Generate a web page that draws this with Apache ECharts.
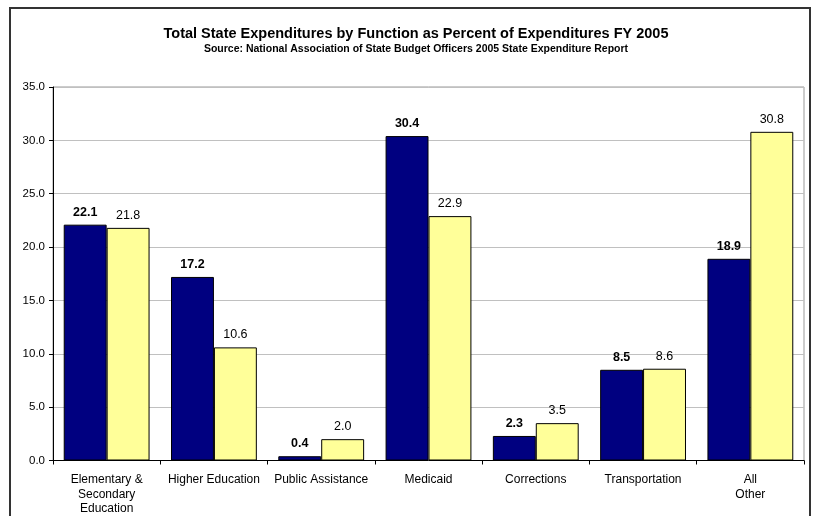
<!DOCTYPE html>
<html>
<head>
<meta charset="utf-8">
<script src="https://cdn.jsdelivr.net/npm/echarts@6/dist/echarts.min.js"></script>
<style>
  html, body { margin: 0; padding: 0; background: #fff; overflow: hidden; width: 817px; height: 516px; }
  #frame { position: absolute; left: 9px; top: 7px; width: 802px; height: 509px; border: 2px solid #333; border-bottom: none; box-sizing: border-box; }
  #chart { width: 817px; height: 516px; position: absolute; left: 0; top: 0; }
</style>
</head>
<body>
<div id="frame"></div>
<div id="chart"></div>
<script>
// Categories and values (percent of total state expenditures)
const categories = [
  'Elementary &\nSecondary\nEducation',
  'Higher Education',
  'Public Assistance',
  'Medicaid',
  'Corrections',
  'Transportation',
  'All\nOther'
];
const seriesA = [22.1, 17.2, 0.4, 30.4, 2.3, 8.5, 18.9];
const seriesB = [21.8, 10.6, 2.0, 22.9, 3.5, 8.6, 30.8];
const yTicks = { min: 0, max: 35, interval: 5 };

const font = 'Arial, "Liberation Sans", sans-serif';
const chart = echarts.init(document.getElementById('chart'), null, { renderer: 'canvas' });

chart.setOption({
  animation: false,
  backgroundColor: 'transparent',
  title: {
    text: 'Total State Expenditures by Function as Percent of Expenditures FY 2005',
    subtext: 'Source: National Association of State Budget Officers 2005 State Expenditure Report',
    left: 411,
    textAlign: 'center',
    top: 21,
    itemGap: 3,
    textStyle: { fontFamily: font, fontSize: 14.5, fontWeight: 'bold', color: '#000' },
    subtextStyle: { fontFamily: font, fontSize: 10.5, fontWeight: 'bold', color: '#000' }
  },
  grid: { left: 53, right: 13, top: 87, bottom: 52, show: true, borderColor: '#999', borderWidth: 1 },
  xAxis: {
    type: 'category',
    data: categories,
    axisLine: { lineStyle: { color: '#000', width: 1 } },
    axisTick: { show: true, alignWithLabel: false, length: 4, lineStyle: { color: '#000' } },
    axisLabel: { fontFamily: font, fontSize: 12, color: '#000', margin: 12, lineHeight: 14.5, interval: 0 }
  },
  yAxis: {
    type: 'value',
    min: yTicks.min,
    max: yTicks.max,
    interval: yTicks.interval,
    axisLine: { show: true, lineStyle: { color: '#000', width: 1 } },
    axisTick: { show: true, length: 4, lineStyle: { color: '#000' } },
    axisLabel: { fontFamily: font, fontSize: 11.5, color: '#000', margin: 8, formatter: v => v.toFixed(1) },
    splitLine: { lineStyle: { color: '#c0c0c0', width: 1 } }
  },
  series: [
    {
      type: 'bar',
      data: seriesA,
      barWidth: '40%',
      barGap: '0%',
      itemStyle: { color: '#000080', borderColor: '#000', borderWidth: 1 },
      label: { show: true, position: 'top', distance: 6, fontFamily: font, fontSize: 12.5, fontWeight: 'bold', color: '#000', formatter: p => p.value.toFixed(1) }
    },
    {
      type: 'bar',
      data: seriesB,
      barWidth: '40%',
      barGap: '0%',
      itemStyle: { color: '#FFFF99', borderColor: '#000', borderWidth: 1 },
      label: { show: true, position: 'top', distance: 6, fontFamily: font, fontSize: 12.5, color: '#000', formatter: p => p.value.toFixed(1) }
    }
  ]
});
</script>
</body>
</html>
